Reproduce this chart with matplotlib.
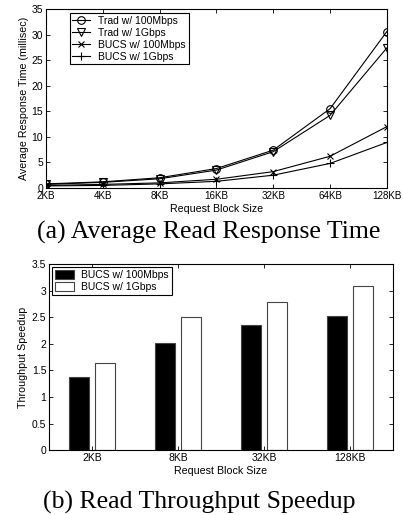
import matplotlib.pyplot as plt
import numpy as np

# Daten (a): mittlere Antwortzeit in ms
block_sizes = ['2KB', '4KB', '8KB', '16KB', '32KB', '64KB', '128KB']
trad_100m = [0.8, 1.2, 2.0, 3.8, 7.4, 15.5, 30.6]
trad_1g = [0.7, 1.1, 1.8, 3.5, 7.1, 14.2, 27.4]
bucs_100m = [0.5, 0.7, 1.0, 1.7, 3.2, 6.2, 12.0]
bucs_1g = [0.4, 0.5, 0.8, 1.3, 2.5, 4.8, 8.9]

# Daten (b): Durchsatz-Speedup
bar_sizes = ['2KB', '8KB', '32KB', '128KB']
speedup_100m = [1.38, 2.01, 2.35, 2.53]
speedup_1g = [1.63, 2.51, 2.79, 3.09]

plt.rcParams['font.family'] = 'Liberation Sans'

fig = plt.figure(figsize=(4.03, 5.15), dpi=100)

# --- (a) Linienplot ---
ax1 = fig.add_axes([0.114, 0.635, 0.846, 0.3475])
x = np.arange(1, len(block_sizes) + 1)
ax1.plot(x, trad_100m, color='black', lw=0.8, marker='o', mfc='none', ms=5.5, mew=0.8, label='Trad w/ 100Mbps')
ax1.plot(x, trad_1g, color='black', lw=0.8, marker='v', mfc='none', ms=5.5, mew=0.8, label='Trad w/ 1Gbps')
ax1.plot(x, bucs_100m, color='black', lw=0.8, marker='x', ms=4, mew=0.8, label='BUCS w/ 100Mbps')
ax1.plot(x, bucs_1g, color='black', lw=0.8, marker='+', ms=5.5, mew=0.8, label='BUCS w/ 1Gbps')
ax1.set_xlim(1, 7)
ax1.set_ylim(0, 35)
ax1.set_xticks(x)
ax1.set_xticklabels(block_sizes)
ax1.set_yticks(np.arange(0, 36, 5))
ax1.set_xlabel('Request Block Size', fontsize=7.7, labelpad=2)
ax1.set_ylabel('Average Response Time (millisec)', fontsize=7.7, labelpad=2)
leg1 = ax1.legend(loc='upper left', bbox_to_anchor=(0.07, 0.978), borderaxespad=0, fontsize=7.5,
                  fancybox=False, edgecolor='black', framealpha=1, handlelength=1.7, borderpad=0.25,
                  labelspacing=0.2, handletextpad=0.8)
leg1.get_frame().set_linewidth(0.8)

# --- (b) Balkendiagramm ---
ax2 = fig.add_axes([0.122, 0.126, 0.853, 0.3615])
xb = np.arange(1, len(bar_sizes) + 1)
w = 0.23
ax2.bar(xb - 0.15, speedup_100m, w, color='black', edgecolor='#444444', lw=0.8, label='BUCS w/ 100Mbps')
ax2.bar(xb + 0.15, speedup_1g, w, color='white', edgecolor='#444444', lw=0.8, label='BUCS w/ 1Gbps')
ax2.set_xlim(0.5, 4.5)
ax2.set_ylim(0, 3.5)
ax2.set_xticks(xb)
ax2.set_xticklabels(bar_sizes)
ax2.set_yticks(np.arange(0, 3.6, 0.5))
ax2.set_yticklabels(['0', '0.5', '1', '1.5', '2', '2.5', '3', '3.5'])
ax2.set_xlabel('Request Block Size', fontsize=7.7, labelpad=2)
ax2.set_ylabel('Throughput Speedup', fontsize=7.7, labelpad=3)
leg2 = ax2.legend(loc='upper left', fontsize=7.5, fancybox=False, edgecolor='black', framealpha=1,
                  handlelength=1.8, handleheight=0.9, borderpad=0.3, labelspacing=0.2,
                  handletextpad=0.7, borderaxespad=0.3)
leg2.get_frame().set_linewidth(0.8)

for ax in (ax1, ax2):
    ax.tick_params(direction='in', top=True, right=True, labelsize=7.5, length=3, width=0.6, pad=2)
    for s in ax.spines.values():
        s.set_linewidth(0.8)
# 128KB passt sonst nicht ganz ins Bild
ax1.tick_params(axis='x', labelsize=7.1)

fig.text(0.517, 0.549, '(a) Average Read Response Time', ha='center', va='center',
         fontsize=18.5, family='Liberation Serif')
fig.text(0.494, 0.024, '(b) Read Throughput Speedup', ha='center', va='center',
         fontsize=18.5, family='Liberation Serif')

fig.savefig('out.png', dpi=100)
